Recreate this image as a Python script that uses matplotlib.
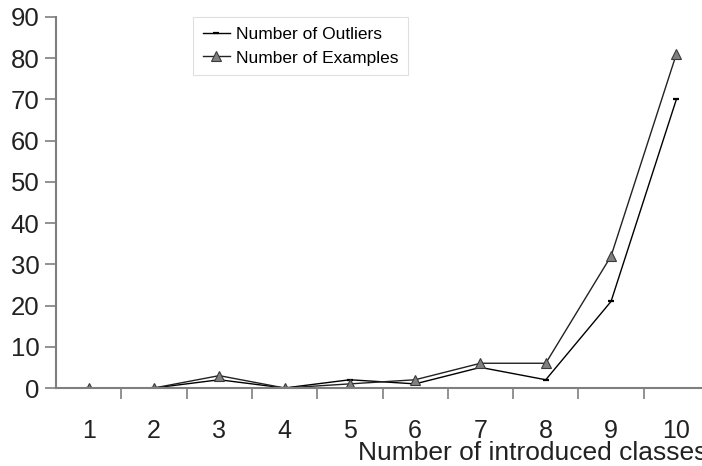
import numpy as np
import matplotlib.pyplot as plt
from matplotlib.ticker import FixedLocator

plt.rcParams['font.family'] = ['Liberation Sans', 'DejaVu Sans']

classes = [1, 2, 3, 4, 5, 6, 7, 8, 9, 10]
outliers = [0, 0, 2, 0, 2, 1, 5, 2, 21, 70]
examples = [0, 0, 3, 0, 1, 2, 6, 6, 32, 81]

fig = plt.figure(figsize=(7.02, 4.66), dpi=100)
ax = fig.add_axes([56/702, 78/466, 646/702, 371/466])

axis_col = "#7f7f7f"
text_col = "#222222"

ax.plot(classes, outliers, color="black", lw=1, marker="_", ms=5, mew=1.6,
        label="Number of Outliers")
ax.plot(classes, examples, color="#222222", lw=1, marker="^", ms=7,
        mfc="#808080", mec="#3a3a3a", mew=0.8, label="Number of Examples")

ax.set_xlim(0.5, 0.5 + 646/65.3)
ax.set_ylim(0, 90)
ax.set_yticks(np.arange(0, 91, 10))

# category labels at the centres, tick marks between categories
ax.set_xticks(classes)
ax.xaxis.set_minor_locator(FixedLocator(np.arange(1.5, 10.6, 1)))
ax.tick_params(axis="x", which="major", length=0, pad=22, labelsize=18,
               labelcolor=text_col)
ax.tick_params(axis="x", which="minor", length=8, width=1.2, color=axis_col,
               direction="out")
ax.tick_params(axis="y", length=8, width=1.2, color=axis_col, pad=4,
               labelsize=18.5, labelcolor=text_col)

for side in ["top", "right"]:
    ax.spines[side].set_visible(False)
for side in ["left", "bottom"]:
    ax.spines[side].set_color(axis_col)
    ax.spines[side].set_linewidth(1.5)

fig.text(358/702, 6/466, "Number of introduced classes", fontsize=19,
         color=text_col, ha="left", va="baseline")

leg = ax.legend(loc="upper left", bbox_to_anchor=(137/646, 1.0), fontsize=12.5,
                frameon=True, fancybox=False, handlelength=1.6,
                handletextpad=0.3, borderpad=0.55, labelspacing=0.5,
                borderaxespad=0)
leg.get_frame().set_edgecolor("#d8d8d8")
leg.get_frame().set_linewidth(0.8)

fig.savefig("out.png", dpi=100)
